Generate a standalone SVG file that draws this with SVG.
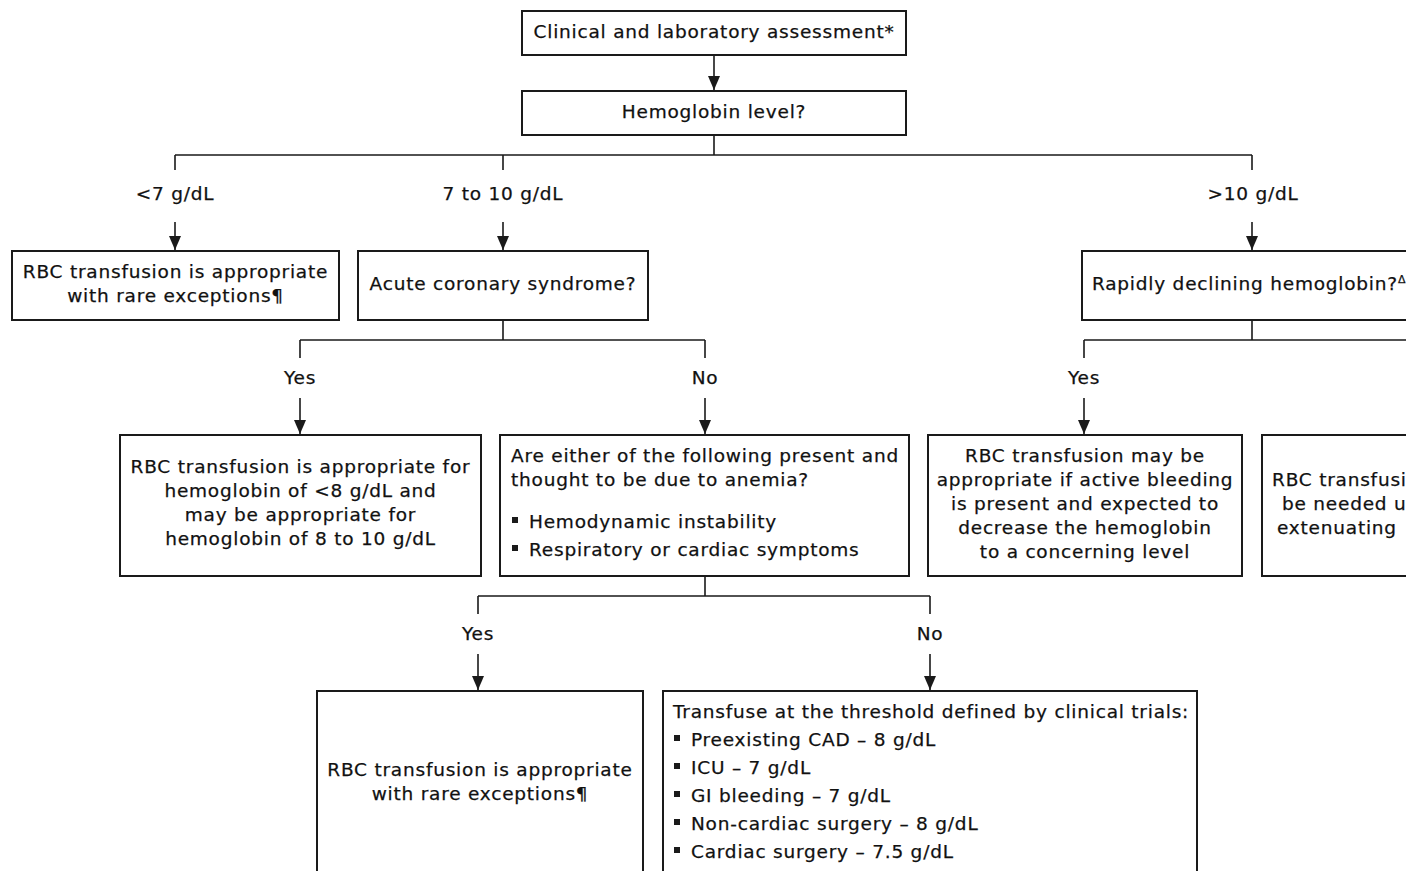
<svg xmlns="http://www.w3.org/2000/svg" width="1406" height="871" viewBox="0 0 1406 871">
<defs>
<style>
text{font-family:"DejaVu Sans","Verdana",sans-serif;font-size:18.5px;letter-spacing:0.78px;fill:#111;stroke:#111;stroke-width:0.25}
.c{text-anchor:middle}
.box{fill:#fff;stroke:#1a1a1a;stroke-width:2}
.ln{fill:none;stroke:#1a1a1a;stroke-width:1.6}
.bul{fill:#1a1a1a}
.sup{font-size:11px;letter-spacing:0}
</style>
<marker id="ah" markerUnits="userSpaceOnUse" markerWidth="14" markerHeight="12" refX="14" refY="6" orient="auto">
<path d="M0,0 L14,6 L0,12 z" fill="#1a1a1a"/>
</marker>
</defs>
<rect width="1406" height="871" fill="#fff"/>

<g id="connectors">
<path class="ln" d="M714,55 V90" marker-end="url(#ah)"/>
<path class="ln" d="M714,135 V155 M175,155 H1252 M175,155 V170 M503,155 V170 M1252,155 V170"/>
<path class="ln" d="M175,222 V250" marker-end="url(#ah)"/>
<path class="ln" d="M503,222 V250" marker-end="url(#ah)"/>
<path class="ln" d="M1252,222 V250" marker-end="url(#ah)"/>
<path class="ln" d="M503,320 V340 M300,340 H705 M300,340 V358 M705,340 V358"/>
<path class="ln" d="M300,398 V434" marker-end="url(#ah)"/>
<path class="ln" d="M705,398 V434" marker-end="url(#ah)"/>
<path class="ln" d="M1252,320 V340 M1084,340 H1406 M1084,340 V358"/>
<path class="ln" d="M1084,398 V434" marker-end="url(#ah)"/>
<path class="ln" d="M705,576 V596 M478,596 H930 M478,596 V614 M930,596 V614"/>
<path class="ln" d="M478,654 V690" marker-end="url(#ah)"/>
<path class="ln" d="M930,654 V690" marker-end="url(#ah)"/>
</g>

<g id="labels">
<text class="c" x="175" y="200">&lt;7 g/dL</text>
<text class="c" x="503" y="200">7 to 10 g/dL</text>
<text class="c" x="1253" y="200">&gt;10 g/dL</text>
<text class="c" x="300" y="384">Yes</text>
<text class="c" x="705" y="384">No</text>
<text class="c" x="1084" y="384">Yes</text>
<text class="c" x="478" y="640">Yes</text>
<text class="c" x="930" y="640">No</text>
</g>

<g id="n-assessment">
<rect class="box" x="522" y="11" width="384" height="44"/>
<text class="c" x="714" y="38">Clinical and laboratory assessment*</text>
</g>

<g id="n-hemoglobin">
<rect class="box" x="522" y="91" width="384" height="44"/>
<text class="c" x="714" y="118">Hemoglobin level?</text>
</g>

<g id="n-lt7">
<rect class="box" x="12" y="251" width="327" height="69"/>
<text class="c" x="175.5" y="278">RBC transfusion is appropriate</text>
<text class="c" x="175.5" y="302">with rare exceptions¶</text>
</g>

<g id="n-acs">
<rect class="box" x="358" y="251" width="290" height="69"/>
<text class="c" x="503" y="290">Acute coronary syndrome?</text>
</g>

<g id="n-rapid">
<rect class="box" x="1082" y="251" width="340" height="69"/>
<text x="1092" y="290">Rapidly declining hemoglobin?<tspan class="sup" dy="-7">Δ</tspan></text>
</g>

<g id="n-acs-yes">
<rect class="box" x="120" y="435" width="361" height="141"/>
<text class="c" x="300.5" y="473">RBC transfusion is appropriate for</text>
<text class="c" x="300.5" y="497">hemoglobin of &lt;8 g/dL and</text>
<text class="c" x="300.5" y="521">may be appropriate for</text>
<text class="c" x="300.5" y="545">hemoglobin of 8 to 10 g/dL</text>
</g>

<g id="n-acs-no">
<rect class="box" x="500" y="435" width="409" height="141"/>
<text x="511" y="462">Are either of the following present and</text>
<text x="511" y="486">thought to be due to anemia?</text>
<rect class="bul" x="512" y="517" width="6" height="6"/>
<text x="529" y="528">Hemodynamic instability</text>
<rect class="bul" x="512" y="545" width="6" height="6"/>
<text x="529" y="556">Respiratory or cardiac symptoms</text>
</g>

<g id="n-rapid-yes">
<rect class="box" x="928" y="435" width="314" height="141"/>
<text class="c" x="1085" y="462">RBC transfusion may be</text>
<text class="c" x="1085" y="486">appropriate if active bleeding</text>
<text class="c" x="1085" y="510">is present and expected to</text>
<text class="c" x="1085" y="534">decrease the hemoglobin</text>
<text class="c" x="1085" y="558">to a concerning level</text>
</g>

<g id="n-rapid-no">
<rect class="box" x="1262" y="435" width="200" height="141"/>
<text x="1272" y="486">RBC transfusi</text>
<text x="1282" y="510">be needed u</text>
<text x="1277" y="534">extenuating</text>
</g>

<g id="n-sym-yes">
<rect class="box" x="317" y="691" width="326" height="200"/>
<text class="c" x="480" y="776">RBC transfusion is appropriate</text>
<text class="c" x="480" y="800">with rare exceptions¶</text>
</g>

<g id="n-sym-no">
<rect class="box" x="663" y="691" width="534" height="200"/>
<text x="673" y="718">Transfuse at the threshold defined by clinical trials:</text>
<rect class="bul" x="674" y="735" width="6" height="6"/>
<text x="691" y="746">Preexisting CAD – 8 g/dL</text>
<rect class="bul" x="674" y="763" width="6" height="6"/>
<text x="691" y="774">ICU – 7 g/dL</text>
<rect class="bul" x="674" y="791" width="6" height="6"/>
<text x="691" y="802">GI bleeding – 7 g/dL</text>
<rect class="bul" x="674" y="819" width="6" height="6"/>
<text x="691" y="830">Non-cardiac surgery – 8 g/dL</text>
<rect class="bul" x="674" y="847" width="6" height="6"/>
<text x="691" y="858">Cardiac surgery – 7.5 g/dL</text>
</g>
</svg>
